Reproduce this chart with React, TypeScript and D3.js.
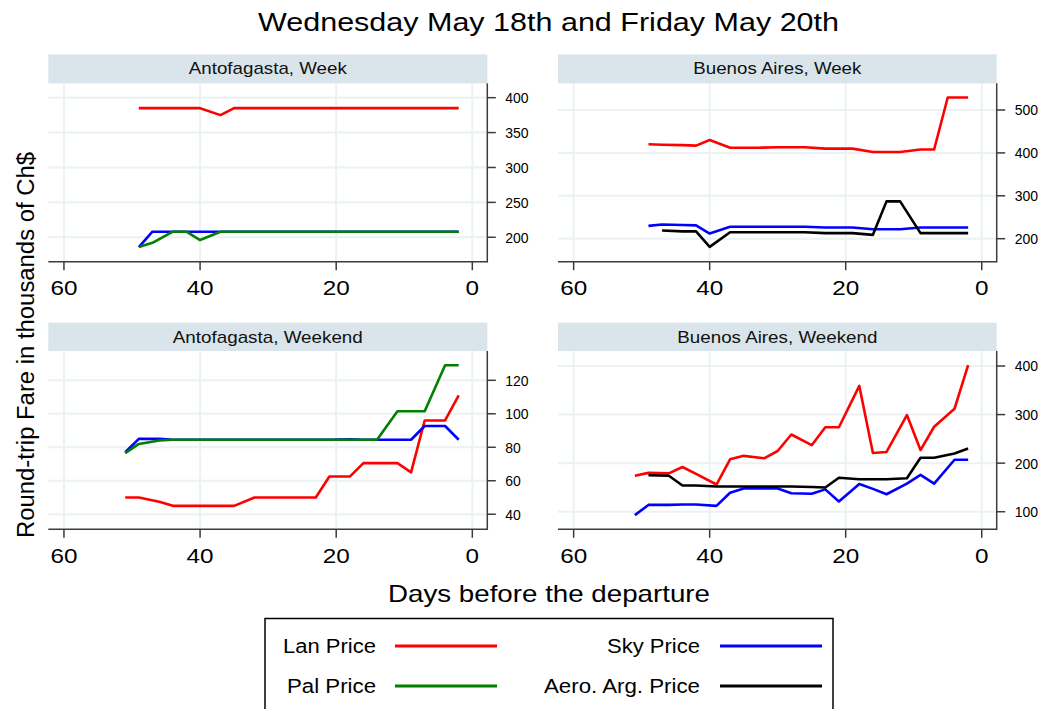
import React from "react";
import * as d3 from "d3";

const weekDays = [49, 47, 44, 42, 40, 37, 35, 33, 30, 28, 26, 23, 21, 19, 16, 14, 12, 9, 7, 5, 2];
const weekendDays = [51, 49, 46, 44, 42, 39, 37, 35, 32, 30, 28, 25, 23, 21, 18, 16, 14, 11, 9, 7, 4, 2];

// Antofagasta, Week
const antWeekLan = [385, 385, 385, 385, 385, 375, 385, 385, 385, 385, 385, 385, 385, 385, 385, 385, 385, 385, 385, 385, 385];
const antWeekSky = [186, 208, 208, 208, 208, 208, 208, 208, 208, 208, 208, 208, 208, 208, 208, 208, 208, 208, 208, 208, 208];
const antWeekPal = [186, 192, 208, 208, 196, 208, 208, 208, 208, 208, 208, 208, 208, 208, 208, 208, 208, 208, 208, 208, 208];

// Buenos Aires, Week
const baWeekLan = [420, 419, 418, 417, 430, 412, 412, 412, 413, 413, 413, 410, 410, 410, 402, 402, 402, 408, 408, 529, 529];
const baWeekSky = [230, 233, 232, 231, 212, 228, 228, 228, 228, 228, 228, 226, 226, 226, 222, 222, 222, 226, 226, 226, 226];
const baWeekAero = [null, 219, 217, 217, 181, 215, 215, 215, 215, 215, 215, 213, 213, 213, 209, 287, 287, 213, 213, 213, 213];

// Antofagasta, Weekend
const antWkndLan = [50, 50, 47.5, 45, 45, 45, 45, 45, 50, 50, 50, 50, 50, 62.5, 62.5, 70.5, 70.5, 70.5, 65, 96, 96, 111];
const antWkndSky = [77, 85, 85, 84.5, 84.5, 84.5, 84.5, 84.5, 84.5, 84.5, 84.5, 84.5, 84.5, 84.5, 84.7, 84.5, 84.5, 84.5, 84.5, 92.7, 92.7, 84.5];
const antWkndPal = [76.5, 82, 84, 84.5, 84.5, 84.5, 84.5, 84.5, 84.5, 84.5, 84.5, 84.5, 84.5, 84.5, 84.5, 84.5, 84.5, 101.5, 101.5, 101.5, 129, 129];

// Buenos Aires, Weekend
const baWkndLan = [174, 180, 179, 192, 178, 156, 208, 215, 210, 225, 259, 237, 274, 274, 359, 221, 223, 299, 227, 275, 312, 402];
const baWkndSky = [93, 114, 114, 115, 115, 112, 139, 148, 148, 148, 138, 137, 146, 121, 157, 147, 136, 158, 176, 158, 207, 207];
const baWkndAero = [null, 175, 174, 154, 154, 152, 152, 152, 152, 152, 152, 151, 150, 170, 167, 167, 167, 169, 211, 211, 220, 230];

const xTicks = [60, 40, 20, 0];
const antWeekTicks = [200, 250, 300, 350, 400];
const baWeekTicks = [200, 300, 400, 500];
const antWkndTicks = [40, 60, 80, 100, 120];
const baWkndTicks = [100, 200, 300, 400];

const seriesColors: Record<string, string> = { lan: "#ff0000", sky: "#0000ff", pal: "#007f00", aero: "#000000" };

const FONT = "'Liberation Sans', Arial, Helvetica, sans-serif";

type Series = { key: string; values: (number | null)[] };
type Panel = {
  title: string;
  titleLen: number;
  days: number[];
  series: Series[];
  yDomain: [number, number];
  yTicks: number[];
  left: number;
  right: number;
  stripTop: number;
  top: number;
  bottom: number;
};

const colL = [48.3, 487.3];
const colR = [558, 996.7];
const row1 = [54.3, 83.3, 261.7];
const row2 = [322.7, 351, 529.3];

const panels: Panel[] = [
  {
    title: "Antofagasta, Week",
    titleLen: 158,
    days: weekDays,
    series: [
      { key: "lan", values: antWeekLan },
      { key: "sky", values: antWeekSky },
      { key: "pal", values: antWeekPal },
    ],
    yDomain: [165, 420.6],
    yTicks: antWeekTicks,
    left: colL[0], right: colL[1], stripTop: row1[0], top: row1[1], bottom: row1[2],
  },
  {
    title: "Buenos Aires, Week",
    titleLen: 168,
    days: weekDays,
    series: [
      { key: "lan", values: baWeekLan },
      { key: "sky", values: baWeekSky },
      { key: "aero", values: baWeekAero },
    ],
    yDomain: [146.4, 562.2],
    yTicks: baWeekTicks,
    left: colR[0], right: colR[1], stripTop: row1[0], top: row1[1], bottom: row1[2],
  },
  {
    title: "Antofagasta, Weekend",
    titleLen: 190,
    days: weekendDays,
    series: [
      { key: "lan", values: antWkndLan },
      { key: "sky", values: antWkndSky },
      { key: "pal", values: antWkndPal },
    ],
    yDomain: [31, 137.5],
    yTicks: antWkndTicks,
    left: colL[0], right: colL[1], stripTop: row2[0], top: row2[1], bottom: row2[2],
  },
  {
    title: "Buenos Aires, Weekend",
    titleLen: 200,
    days: weekendDays,
    series: [
      { key: "lan", values: baWkndLan },
      { key: "sky", values: baWkndSky },
      { key: "aero", values: baWkndAero },
    ],
    yDomain: [63.8, 430.9],
    yTicks: baWkndTicks,
    left: colR[0], right: colR[1], stripTop: row2[0], top: row2[1], bottom: row2[2],
  },
];

function PanelView({ p }: { p: Panel }) {
  const x = d3.scaleLinear().domain([62.3, -2.2]).range([p.left, p.right]);
  const y = d3.scaleLinear().domain(p.yDomain).range([p.bottom, p.top]);
  const gridColor = "#eaf2f3";
  const axisColor = "#3c3c3c";
  return (
    <g>
      <rect x={p.left} y={p.stripTop} width={p.right - p.left} height={p.top - p.stripTop} fill="#d9e5eb" />
      <text
        x={(p.left + p.right) / 2}
        y={p.stripTop + 20}
        textAnchor="middle"
        fontSize={17}
        fontFamily={FONT}
        fill="#111"
        textLength={p.titleLen}
        lengthAdjust="spacingAndGlyphs"
      >
        {p.title}
      </text>
      {xTicks.map((t) => (
        <line key={"gx" + t} x1={x(t)} x2={x(t)} y1={p.top} y2={p.bottom} stroke={gridColor} strokeWidth={2} />
      ))}
      {p.yTicks.map((t) => (
        <line key={"gy" + t} x1={p.left} x2={p.right} y1={y(t)} y2={y(t)} stroke={gridColor} strokeWidth={2} />
      ))}
      {p.series.map((s) => {
        const pts = p.days.map((d, i) => [d, s.values[i]] as [number, number | null]);
        const line = d3
          .line<[number, number | null]>()
          .defined((v) => v[1] !== null)
          .x((v) => x(v[0]))
          .y((v) => y(v[1] as number));
        return (
          <path key={s.key} d={line(pts) || ""} fill="none" stroke={seriesColors[s.key]} strokeWidth={2.6} strokeLinejoin="round" />
        );
      })}
      <line x1={p.left} x2={p.right} y1={p.bottom} y2={p.bottom} stroke={axisColor} strokeWidth={1.5} />
      <line x1={p.right} x2={p.right} y1={p.top} y2={p.bottom + 0.75} stroke={axisColor} strokeWidth={1.5} />
      {xTicks.map((t) => (
        <g key={"xt" + t}>
          <line x1={x(t)} x2={x(t)} y1={p.bottom} y2={p.bottom + 8.5} stroke={axisColor} strokeWidth={1.5} />
          <text
            x={x(t)}
            y={p.bottom + 33.5}
            textAnchor="middle"
            fontSize={21}
            fontFamily={FONT}
            fill="#000"
            textLength={String(t).length * 13.5}
            lengthAdjust="spacingAndGlyphs"
          >
            {t}
          </text>
        </g>
      ))}
      {p.yTicks.map((t) => (
        <g key={"yt" + t}>
          <line x1={p.right} x2={p.right + 8.5} y1={y(t)} y2={y(t)} stroke={axisColor} strokeWidth={1.5} />
          <text x={p.right + 18} y={y(t) + 5.4} textAnchor="start" fontSize={14} fontFamily={FONT} fill="#000">
            {t}
          </text>
        </g>
      ))}
    </g>
  );
}

const legendItems = [
  { key: "lan", label: "Lan Price", len: 93 },
  { key: "sky", label: "Sky Price", len: 93 },
  { key: "pal", label: "Pal Price", len: 89 },
  { key: "aero", label: "Aero. Arg. Price", len: 156 },
];

export default function App() {
  return (
    <svg width={1044} height={709} style={{ position: "absolute", left: 0, top: 0, background: "#fff" }} xmlns="http://www.w3.org/2000/svg">
      <rect x={0} y={0} width={1044} height={709} fill="#fff" />
      <text x={548.5} y={31} textAnchor="middle" fontSize={25} fontFamily={FONT} fill="#000" textLength={581} lengthAdjust="spacingAndGlyphs">
        Wednesday May 18th and Friday May 20th
      </text>
      <text
        transform="translate(33.5,345) rotate(-90)"
        textAnchor="middle"
        fontSize={23}
        fontFamily={FONT}
        fill="#000"
        textLength={386}
        lengthAdjust="spacingAndGlyphs"
      >
        Round-trip Fare in thousands of Ch$
      </text>
      {panels.map((p) => (
        <PanelView key={p.title} p={p} />
      ))}
      <text x={549} y={602} textAnchor="middle" fontSize={24} fontFamily={FONT} fill="#000" textLength={322} lengthAdjust="spacingAndGlyphs">
        Days before the departure
      </text>
      <rect x={265} y={618.5} width={568} height={100} fill="#fff" stroke="#000" strokeWidth={1.5} />
      {legendItems.map((it, i) => {
        const col = i % 2;
        const row = Math.floor(i / 2);
        const textRight = col === 0 ? 376 : 700;
        const lineX1 = col === 0 ? 395 : 720;
        const yy = row === 0 ? 646 : 686;
        return (
          <g key={it.key}>
            <text
              x={textRight}
              y={yy + 7}
              textAnchor="end"
              fontSize={20}
              fontFamily={FONT}
              fill="#000"
              textLength={it.len}
              lengthAdjust="spacingAndGlyphs"
            >
              {it.label}
            </text>
            <line x1={lineX1} x2={lineX1 + 102} y1={yy} y2={yy} stroke={seriesColors[it.key]} strokeWidth={3} />
          </g>
        );
      })}
    </svg>
  );
}
